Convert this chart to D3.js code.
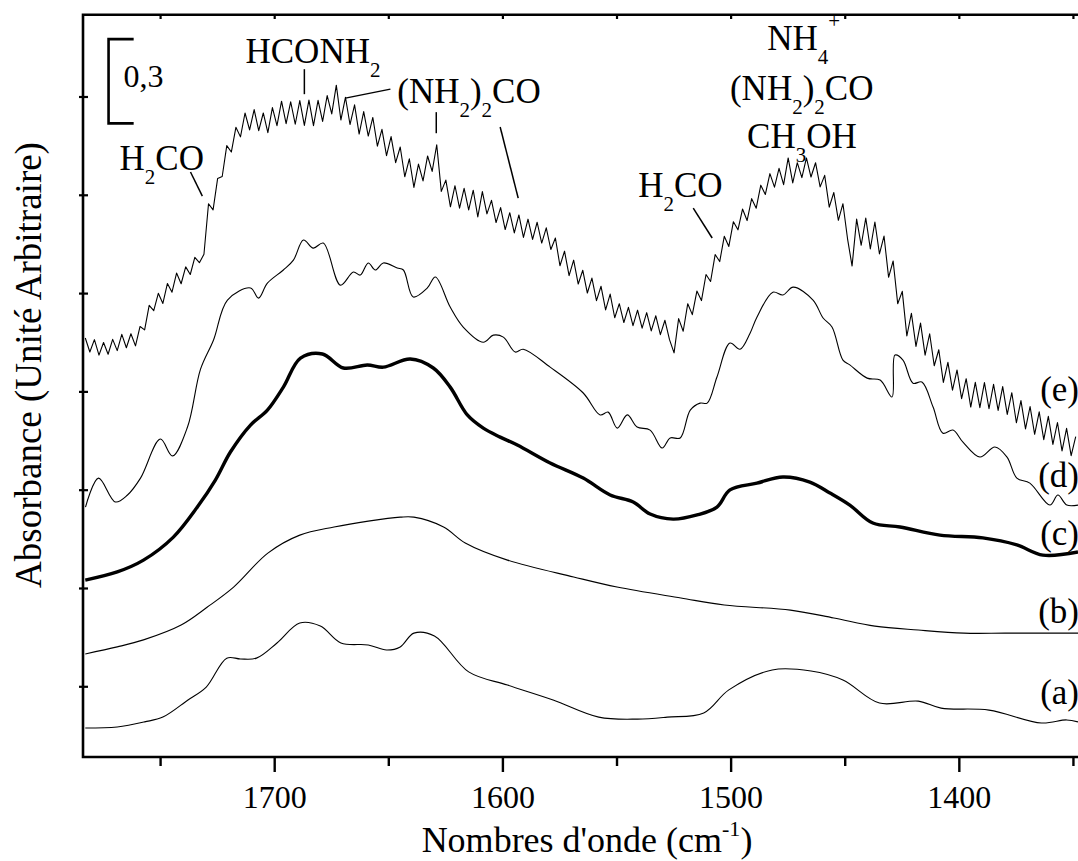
<!DOCTYPE html>
<html><head><meta charset="utf-8">
<script src="https://cdn.jsdelivr.net/npm/d3@7"></script>
<style>
body{margin:0;background:#fff}svg{display:block}
</style>
</head><body>
<svg id="chart" width="1078" height="861"></svg>
<script>
// ---------------- data (wavenumber cm-1, absorbance arbitrary offset) ----------------
const xDomain = [1784, 1348];
const yDomain = [0, 2.643];
const xMajorTicks = [1700, 1600, 1500, 1400];
const xMinorTicks = [1750, 1650, 1550, 1450, 1350];
const yTicks = [0.25, 0.60, 0.95, 1.30, 1.65, 2.00, 2.35];

const waveA = [1783,1769,1757,1749,1738,1730,1721,1715,1708,1699,1689,1680,1671,1659,1651,1645,1639,1630,1615,1598,1578,1558,1541,1528,1512,1501,1482,1465,1451,1435,1418,1408,1387,1364,1353,1348];
const absA  = [0.103,0.107,0.125,0.142,0.203,0.249,0.352,0.349,0.352,0.406,0.477,0.466,0.406,0.399,0.381,0.392,0.441,0.431,0.303,0.256,0.203,0.142,0.135,0.142,0.157,0.239,0.310,0.306,0.274,0.192,0.199,0.174,0.167,0.121,0.132,0.125];

const waveB = [1783,1769,1757.5,1741,1729.5,1718,1703,1689,1674,1659,1645,1639,1626,1616.5,1598,1569,1550,1522,1503,1474,1455,1437,1418,1398,1380,1361,1348];
const absB  = [0.367,0.392,0.417,0.470,0.534,0.605,0.726,0.790,0.819,0.840,0.854,0.854,0.819,0.762,0.701,0.641,0.605,0.566,0.541,0.523,0.495,0.466,0.452,0.441,0.441,0.441,0.441];

const waveC = [1783,1769,1757.5,1744.4,1733.9,1726,1719.4,1710.6,1703.2,1696.2,1688.7,1679.1,1669.9,1659.4,1652.4,1640.6,1630.5,1623.1,1615.6,1608.6,1601.2,1593.7,1579.3,1564.8,1553,1542.9,1535.5,1525.4,1514.9,1506.2,1500.5,1488.7,1477.3,1465.5,1456.7,1448,1437.9,1426,1408.5,1389.7,1374.8,1363.4,1348];
const absC  = [0.630,0.659,0.701,0.783,0.890,0.986,1.086,1.182,1.235,1.317,1.420,1.435,1.385,1.396,1.388,1.417,1.385,1.317,1.218,1.171,1.139,1.111,1.047,0.993,0.933,0.908,0.865,0.847,0.862,0.890,0.951,0.975,0.997,0.979,0.940,0.897,0.833,0.819,0.790,0.780,0.755,0.719,0.730];

const waveD = [1782.9,1777.2,1769.8,1764.5,1758.8,1750.1,1744.8,1738.2,1732.5,1726.8,1720.7,1710.6,1707.1,1703.2,1696.2,1691.8,1687.4,1683.1,1678.7,1671.2,1665.5,1662.5,1659,1655.9,1652.4,1646.3,1643.6,1639.3,1633.1,1629.6,1623.1,1617.4,1608.6,1604.2,1599.8,1594.6,1591.1,1579.3,1564.8,1557.4,1553.9,1549.9,1545.5,1541.2,1535.5,1530.2,1526.7,1522.3,1517.9,1513.6,1510.5,1506.2,1500.5,1496.1,1491.7,1488.7,1481.7,1477.3,1472.8,1464.1,1459.7,1455.8,1451,1448,1440.4,1434.7,1429.5,1428.2,1424.7,1420.3,1416.4,1411.5,1407.2,1402.8,1398.4,1391,1384.4,1379.1,1374.8,1369.1,1360.3,1356.8,1352.9,1348];
const absD  = [0.890,0.993,0.908,0.933,0.993,1.132,1.072,1.175,1.381,1.485,1.627,1.670,1.634,1.687,1.734,1.769,1.841,1.812,1.830,1.680,1.727,1.716,1.759,1.734,1.759,1.741,1.734,1.638,1.670,1.709,1.602,1.531,1.477,1.502,1.495,1.442,1.452,1.388,1.296,1.218,1.228,1.171,1.218,1.175,1.164,1.100,1.136,1.136,1.235,1.260,1.260,1.353,1.474,1.452,1.509,1.566,1.655,1.645,1.673,1.627,1.563,1.531,1.413,1.396,1.349,1.342,1.282,1.431,1.413,1.331,1.335,1.246,1.153,1.164,1.121,1.068,1.104,1.068,0.993,0.975,0.897,0.933,0.897,0.897];

// spectrum (e): sampled every 2 cm-1 from 1783 to 1349
const waveE = d3.range(1783, 1348, -2);
const absE  = [
  1.492,1.442,1.486,1.431,1.476,1.434,1.487,1.447,1.505,1.457, // 1783
  1.507,1.464,1.533,1.521,1.608,1.589,1.651,1.615,1.686,1.655, // 1763
  1.723,1.685,1.745,1.718,1.779,1.760,1.790,1.970,1.948,2.060, // 1743
  2.067,2.177,2.154,2.242,2.208,2.293,2.233,2.305,2.230,2.293, // 1723
  2.223,2.312,2.248,2.335,2.255,2.333,2.253,2.337,2.249,2.339, // 1703
  2.248,2.338,2.263,2.355,2.290,2.392,2.268,2.349,2.252,2.322, // 1683
  2.218,2.298,2.211,2.277,2.175,2.235,2.141,2.209,2.116,2.172, // 1663
  2.066,2.130,2.028,2.111,2.051,2.140,2.085,2.180,2.014,2.054, // 1643
  1.959,2.034,1.954,2.025,1.948,2.018,1.923,2.013,1.934,1.982, // 1623
  1.903,1.956,1.878,1.938,1.866,1.930,1.850,1.915,1.843,1.904, // 1603
  1.830,1.884,1.807,1.848,1.749,1.801,1.714,1.769,1.684,1.733, // 1583
  1.652,1.705,1.625,1.676,1.592,1.648,1.564,1.614,1.547,1.601, // 1563
  1.536,1.591,1.527,1.582,1.517,1.571,1.504,1.555,1.486,1.439, // 1543
  1.561,1.516,1.614,1.575,1.659,1.625,1.718,1.693,1.789,1.764, // 1523
  1.854,1.818,1.906,1.877,1.951,1.910,1.988,1.954,2.036,2.003, // 1503
  2.077,2.029,2.096,2.038,2.133,2.044,2.116,2.063,2.133,2.065, // 1483
  2.116,2.030,2.071,1.958,2.010,1.911,1.970,1.846,1.748,1.915, // 1463
  1.822,1.919,1.809,1.905,1.791,1.855,1.708,1.766,1.614,1.658, // 1443
  1.499,1.580,1.462,1.545,1.431,1.507,1.393,1.450,1.334,1.405, // 1423
  1.306,1.378,1.276,1.347,1.246,1.334,1.244,1.333,1.240,1.327, // 1403
  1.234,1.319,1.220,1.297,1.190,1.269,1.168,1.248,1.149,1.229, // 1383
  1.130,1.213,1.113,1.191,1.090,1.170,1.073,1.141              // 1363
];

const seriesNames = ["(a)", "(b)", "(c)", "(d)", "(e)"];
const seriesLabelAbs = [0.190, 0.478, 0.755, 0.961, 1.267];
const xTitle = "Nombres d'onde (cm";
const yTitle = "Absorbance (Unité Arbitraire)";
const scaleBarValue = 0.3;
const scaleBarLabel = "0,3";

// ---------------- chart ----------------
const FONT = '"Liberation Serif"';
const svg = d3.select('#chart');
const x = d3.scaleLinear().domain(xDomain).range([83, 1078]);
const y = d3.scaleLinear().domain(yDomain).range([757, 14.7]);

svg.append('defs').append('clipPath').attr('id', 'clip')
  .append('rect').attr('x', 83).attr('y', 14.7).attr('width', 1078 - 83).attr('height', 757 - 14.7);

const zip = (w, a) => w.map((v, i) => [v, a[i]]).filter(d => d[1] !== undefined);
const lineSmooth = d3.line().x(d => x(d[0])).y(d => y(d[1])).curve(d3.curveCatmullRom.alpha(0.5));
const lineRaw = d3.line().x(d => x(d[0])).y(d => y(d[1]));

const plot = svg.append('g').attr('clip-path', 'url(#clip)');
const specs = [
  {w: waveA, a: absA, sw: 1.1, gen: lineSmooth},
  {w: waveB, a: absB, sw: 1.1, gen: lineSmooth},
  {w: waveC, a: absC, sw: 3.4, gen: lineSmooth},
  {w: waveD, a: absD, sw: 1.1, gen: lineSmooth},
  {w: waveE, a: absE, sw: 1.1, gen: lineRaw}
];
specs.forEach(s => {
  plot.append('path').datum(zip(s.w, s.a)).attr('d', s.gen)
    .attr('fill', 'none').attr('stroke', '#000').attr('stroke-width', s.sw)
    .attr('stroke-linejoin', 'round');
});

// frame
svg.append('path').attr('d', `M1090,${y(yDomain[1])}H83V757H1090`)
  .attr('fill', 'none').attr('stroke', '#000').attr('stroke-width', 2.6);

// bottom axis ticks
const axB = svg.append('g');
axB.selectAll('line.maj').data(xMajorTicks).join('line').attr('class', 'maj')
  .attr('x1', d => x(d)).attr('x2', d => x(d)).attr('y1', 757).attr('y2', 772)
  .attr('stroke', '#000').attr('stroke-width', 2.4);
axB.selectAll('line.min').data(xMinorTicks).join('line').attr('class', 'min')
  .attr('x1', d => x(d)).attr('x2', d => x(d)).attr('y1', 757).attr('y2', 766)
  .attr('stroke', '#000').attr('stroke-width', 2.4);
axB.selectAll('text').data(xMajorTicks).join('text')
  .attr('x', d => x(d)).attr('y', 808).attr('text-anchor', 'middle')
  .attr('font-size', 32).text(d => d);

// top axis ticks (inward)
svg.append('g').selectAll('line').data(xMajorTicks.concat(xMinorTicks)).join('line')
  .attr('x1', d => x(d)).attr('x2', d => x(d)).attr('y1', 14.7).attr('y2', 19)
  .attr('stroke', '#000').attr('stroke-width', 2.2);

// left axis ticks
svg.append('g').selectAll('line').data(yTicks).join('line')
  .attr('x1', 79).attr('x2', 88).attr('y1', d => y(d)).attr('y2', d => y(d))
  .attr('stroke', '#000').attr('stroke-width', 2.2);

// axis titles
const xt = svg.append('text').attr('x', 587).attr('y', 852).attr('text-anchor', 'middle')
  .attr('font-size', 36);
xt.append('tspan').text(xTitle);
xt.append('tspan').attr('font-size', 22).attr('dy', -16).text('-1');
xt.append('tspan').attr('dy', 16).text(')');

svg.append('text').attr('transform', 'translate(41,365) rotate(-90)').attr('text-anchor', 'middle')
  .attr('font-size', 37).text(yTitle);

// series labels
svg.append('g').selectAll('text').data(seriesNames).join('text')
  .attr('x', 1079).attr('y', (d, i) => y(seriesLabelAbs[i])).attr('text-anchor', 'end')
  .attr('font-size', 35).text(d => d);

// scale bar
const sbTop = 2.556;
const sbx = x(1772.8), sbx2 = x(1761.8);
svg.append('path').attr('d', `M${sbx2},${y(sbTop)}H${sbx}V${y(sbTop - scaleBarValue)}H${sbx2}`)
  .attr('fill', 'none').attr('stroke', '#000').attr('stroke-width', 2.6);
svg.append('text').attr('x', x(1766.3)).attr('y', y(2.385))
  .attr('font-size', 32).text(scaleBarLabel);

// annotations: parts [text, 'n'|'sub'|'sup']
const annotations = [
  {w: 1712.8, a: 2.471, parts: [['HCONH','n'],['2','sub']]},
  {w: 1768.0, a: 2.090, parts: [['H','n'],['2','sub'],['CO','n']]},
  {w: 1646.3, a: 2.328, parts: [['(NH','n'],['2','sub'],[')','n'],['2','sub'],['CO','n']]},
  {w: 1484.2, a: 2.517, parts: [['NH','n'],['4','sub'],['+','sup']]},
  {w: 1500.5, a: 2.339, parts: [['(NH','n'],['2','sub'],[')','n'],['2','sub'],['CO','n']]},
  {w: 1493.0, a: 2.168, parts: [['CH','n'],['3','sub'],['OH','n']]},
  {w: 1540.7, a: 1.994, parts: [['H','n'],['2','sub'],['CO','n']]}
];
annotations.forEach(an => {
  const t = svg.append('text').attr('x', x(an.w)).attr('y', y(an.a)).attr('font-size', 35);
  let off = 0;
  an.parts.forEach(([s, k]) => {
    const target = k === 'sub' ? 14 : (k === 'sup' ? -22 : 0);
    t.append('tspan').attr('dy', target - off).attr('font-size', k === 'n' ? 35 : 21).text(s);
    off = target;
  });
});

// leader lines [w1,a1,w2,a2]
const leaders = [
  [1736.9, 2.083, 1731.7, 1.997],
  [1687.0, 2.449, 1687.0, 2.360],
  [1669.0, 2.346, 1649.3, 2.378],
  [1629.2, 2.296, 1629.2, 2.221],
  [1601.2, 2.243, 1593.3, 1.990],
  [1516.6, 1.954, 1508.3, 1.848]
];
svg.append('g').selectAll('line').data(leaders).join('line')
  .attr('x1', d => x(d[0])).attr('y1', d => y(d[1])).attr('x2', d => x(d[2])).attr('y2', d => y(d[3]))
  .attr('stroke', '#000').attr('stroke-width', 1.5);

// serif font on every text
svg.selectAll('text').style('font-family', FONT).attr('fill', '#000');
</script>
</body></html>
